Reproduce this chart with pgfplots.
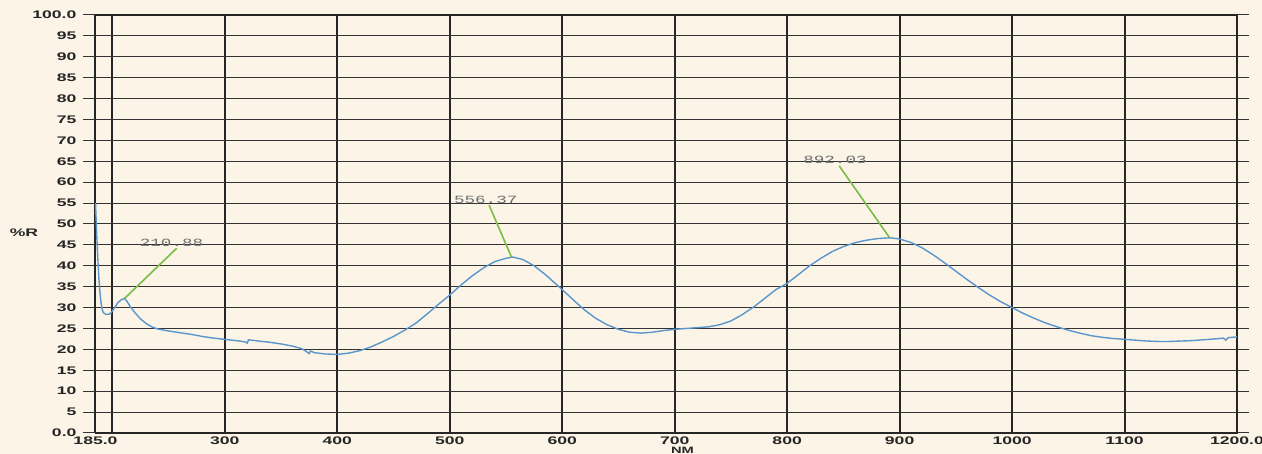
\documentclass[border=0pt]{standalone}
\usepackage{pgfplots}
\pgfplotsset{compat=1.18}
\usepackage{fontspec}
\setmainfont{Liberation Sans}
\newfontfamily\monofont{Liberation Mono}
\usetikzlibrary{calc,backgrounds}
\definecolor{paper}{HTML}{FBF4E7}
\definecolor{curve}{HTML}{5A96CC}
\definecolor{ann}{HTML}{78BE45}
\definecolor{anntext}{HTML}{6E6E6E}
\newcommand\tl[1]{\scalebox{1.6}[1]{#1}}
\newcommand\an[1]{{\monofont\fontsize{5.5}{6}\selectfont\scalebox{1.6}[1]{#1}}}
\begin{document}
\begin{tikzpicture}
\begin{axis}[name=ax, scale only axis, width=570.75pt, height=209pt,
  xmin=185, xmax=1200, ymin=0, ymax=100, clip=false,
  xtick={185,200,300,400,500,600,700,800,900,1000,1100,1200},
  xticklabels={\tl{185.0},,\tl{300},\tl{400},\tl{500},\tl{600},\tl{700},\tl{800},\tl{900},\tl{1000},\tl{1100},\tl{1200.0}},
  ytick={0,5,...,100},
  yticklabels={\tl{0.0},\tl{5},\tl{10},\tl{15},\tl{20},\tl{25},\tl{30},\tl{35},\tl{40},\tl{45},\tl{50},\tl{55},\tl{60},\tl{65},\tl{70},\tl{75},\tl{80},\tl{85},\tl{90},\tl{95},\tl{100.0}},
  tick align=outside, major tick length=6pt,
  xtick style={draw=none},
  ytick style={black!80, line width=0.5pt},
  ticklabel style={font=\fontsize{5.5}{6}\selectfont\bfseries, text=black!85},
  xticklabel style={yshift=7.4pt},
  grid=major,
  x grid style={black!85, line width=1pt},
  y grid style={black!80, line width=0.5pt},
  axis line style={black!85, line width=0.8pt},
]
\addplot[curve, line width=0.7pt] coordinates {
(185,55) (186,48) (187,42) (188,37) (189,33.5) (190,31) (191,29.5) (192,28.8) (194,28.4) (197,28.4) (199,28.8)
(202,30) (205,31.2) (208,31.9) (210.9,32.2) (213,31.5) (216,30.2) (220,28.8) (225,27.3) (230,26.2) (235,25.4)
(240,24.9) (250,24.4) (260,24.0) (270,23.6) (280,23.1) (290,22.7) (300,22.4) (310,22.1) (318,21.8) (320,21.5)
(321,22.3) (330,22.0) (340,21.7) (350,21.3) (360,20.8) (368,20.2) (372,19.6) (375,19.0) (376,19.6) (380,19.2)
(390,18.9) (400,18.8) (410,19.1) (420,19.7) (430,20.6) (440,21.8) (450,23.1) (460,24.6) (470,26.3) (480,28.5)
(490,30.8) (500,33.0) (510,35.4) (520,37.6) (530,39.5) (540,41.0) (550,41.8) (556,42.1) (565,41.5) (575,40.0)
(585,37.9) (595,35.5) (600,34.3) (610,31.8) (620,29.4) (630,27.4) (640,25.9) (650,24.8) (660,24.1) (670,23.9)
(680,24.1) (690,24.5) (700,24.8) (710,25.0) (720,25.2) (730,25.4) (740,25.9) (750,26.8) (760,28.3) (770,30.1)
(780,32.2) (790,34.3) (800,35.8) (810,37.9) (820,40.0) (830,41.8) (840,43.4) (850,44.6) (860,45.5) (870,46.1)
(880,46.5) (892,46.7) (900,46.4) (910,45.6) (920,44.3) (930,42.6) (940,40.7) (950,38.7) (960,36.7) (970,34.8)
(980,33.0) (990,31.4) (1000,30.0) (1010,28.6) (1020,27.4) (1030,26.3) (1040,25.4) (1050,24.6) (1060,23.9)
(1070,23.3) (1080,22.9) (1090,22.6) (1100,22.4) (1110,22.2) (1120,22.0) (1130,21.9) (1140,21.9) (1150,22.0)
(1160,22.1) (1170,22.3) (1180,22.5) (1188,22.7) (1190,22.2) (1192,22.8) (1200,23.0)
};
\addplot[ann, line width=0.8pt] coordinates {(210.9,32.2) (257.2,44.2)};
\addplot[ann, line width=0.8pt] coordinates {(555,42) (535,54.5)};
\addplot[ann, line width=0.8pt] coordinates {(891.4,46.6) (846.3,63.9)};
\node[text=anntext] at (axis cs:252.6,45.6) {\an{210.88}};
\node[text=anntext] at (axis cs:532,55.7) {\an{556.37}};
\node[text=anntext] at (axis cs:842.5,65.4) {\an{892.03}};
\node[font=\fontsize{5.5}{6}\selectfont\bfseries, text=black!85] at (rel axis cs:0,0.48) [xshift=-35.75pt] {\tl{\%R}};
\node[font=\fontsize{4.6}{5}\selectfont\bfseries, text=black!85, anchor=south, inner sep=0pt] at (axis cs:707,0) [yshift=-10.4pt] {\tl{NM}};
\end{axis}
\pgfresetboundingbox
\path[use as bounding box] ($(ax.south west)+(-47.75pt,-10.5pt)$) rectangle ($(ax.north east)+(12.5pt,7.5pt)$);
\begin{scope}[on background layer]
\fill[paper] ($(ax.south west)+(-47.75pt,-10.5pt)$) rectangle ($(ax.north east)+(12.5pt,7.5pt)$);
\end{scope}
\end{tikzpicture}
\end{document}
